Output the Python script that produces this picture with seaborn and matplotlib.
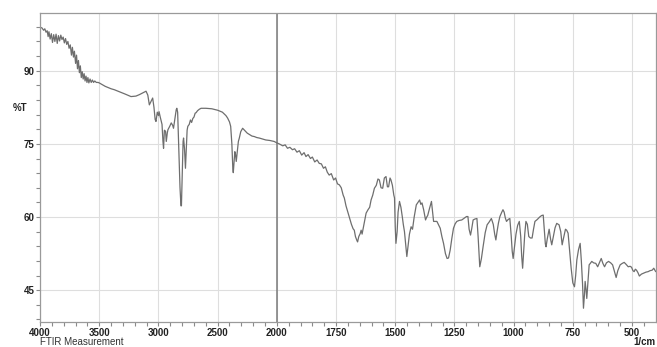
import numpy as np
import pandas as pd
import seaborn as sns
import matplotlib.pyplot as plt
from matplotlib.ticker import FixedLocator, NullFormatter

# =========================================================
#  Spectrum values
# =========================================================
wavenumber = [
    4000, 3985, 3970, 3960, 3950, 3940, 3932, 3925, 3915, 3905, 3895, 3885, 3875, 3865,
    3855, 3845, 3835, 3825, 3815, 3805, 3795, 3785, 3775, 3765, 3755, 3745, 3735, 3727,
    3718, 3710, 3700, 3692, 3684, 3676, 3668, 3660, 3652, 3644, 3636, 3628, 3620, 3612,
    3604, 3596, 3588, 3578, 3568, 3558, 3548, 3538, 3525, 3510, 3500, 3450, 3400, 3372,
    3320, 3280, 3232, 3190, 3161, 3130, 3105, 3090, 3077, 3065, 3049, 3038, 3028, 3021,
    3010, 3000, 2995, 2985, 2970, 2962, 2957, 2950, 2940, 2934, 2925, 2920, 2905, 2892,
    2880, 2873, 2862, 2850, 2845, 2838, 2828, 2818, 2810, 2806, 2800, 2792, 2788, 2780,
    2772, 2765, 2758, 2752, 2740, 2730, 2720, 2710, 2700, 2690, 2682, 2670, 2655, 2640,
    2600, 2550, 2500, 2460, 2430, 2416, 2400, 2390, 2380, 2372, 2368, 2362, 2355, 2350,
    2343, 2336, 2325, 2317, 2305, 2289, 2270, 2250, 2230, 2210, 2190, 2170, 2149, 2120,
    2093, 2060, 2040, 2023, 2000, 1990, 1975, 1965, 1955, 1945, 1934, 1925, 1915, 1905,
    1895, 1885, 1877, 1868, 1858, 1850, 1840, 1830, 1821, 1812, 1803, 1795, 1787, 1779,
    1770, 1760, 1752, 1744, 1736, 1728, 1720, 1715, 1708, 1700, 1694, 1685, 1678, 1673,
    1668, 1662, 1659, 1654, 1648, 1644, 1640, 1632, 1623, 1615, 1608, 1602, 1595, 1588,
    1580, 1573, 1567, 1560, 1553, 1546, 1539, 1533, 1528, 1522, 1518, 1512, 1506, 1503,
    1500, 1497, 1492, 1488, 1482, 1476, 1470, 1466, 1461, 1455, 1451, 1446, 1440, 1433,
    1427, 1420, 1411, 1404, 1397, 1392, 1387, 1380, 1372, 1367, 1363, 1355, 1347, 1342,
    1338, 1330, 1324, 1317, 1310, 1303, 1296, 1288, 1281, 1275, 1268, 1261, 1254, 1247,
    1240, 1230, 1219, 1208, 1199, 1193, 1188, 1182, 1177, 1171, 1163, 1155, 1150, 1143,
    1136, 1129, 1120, 1112, 1103, 1094, 1086, 1080, 1075, 1070, 1064, 1058, 1050, 1045,
    1040, 1035, 1030, 1023, 1016, 1010, 1006, 1002, 996, 990, 983, 976, 970, 966,
    962, 958, 953, 948, 942, 936, 929, 922, 916, 910, 900, 890, 882, 875,
    870, 866, 863, 858, 850, 844, 839, 832, 825, 818, 808, 801, 795, 790,
    781, 776, 770, 765, 757, 750, 743, 738, 733, 726, 719, 714, 709, 705,
    701, 698, 694, 691, 687, 681, 676, 670, 662, 653, 645, 638, 630, 623,
    616, 608, 599, 590, 582, 575, 567, 560, 550, 541, 533, 525, 516, 508,
    502, 496, 491, 486, 481, 475, 469, 460, 450, 441, 432, 424, 415, 408, 400,
]
transmittance = [
    98.9, 98.8, 98.3, 98.6, 97.9, 98.2, 97.0, 98.0, 96.5, 97.6, 95.8, 97.4, 96.0, 97.5,
    95.6, 97.2, 96.1, 97.3, 96.4, 96.9, 95.7, 96.6, 95.4, 96.0, 94.6, 95.3, 93.2, 94.8,
    92.8, 94.0, 91.5, 93.2, 90.4, 92.1, 89.6, 91.0, 88.6, 89.8, 88.3, 89.4, 87.9, 88.9,
    87.6, 88.6, 87.5, 88.3, 87.6, 88.1, 87.6, 87.9, 87.6, 87.6, 87.5, 86.8, 86.3, 86.1,
    85.6, 85.2, 84.7, 84.8, 85.1, 85.5, 85.8, 85.0, 83.0, 83.6, 84.4, 82.5, 80.0, 79.6,
    81.5, 80.8, 81.6, 80.5, 79.0, 75.5, 74.1, 77.8, 77.6, 75.5, 77.3, 77.9, 78.6, 79.3,
    78.8, 78.2, 80.0, 82.0, 82.3, 81.5, 74.0, 66.0, 62.3, 62.3, 68.0, 75.5, 76.2, 74.0,
    70.0, 74.0, 77.8, 78.6, 79.0, 79.9, 79.4, 80.2, 80.5, 81.3, 81.4, 81.8, 82.1, 82.3,
    82.3, 82.2, 81.9, 81.5, 80.8, 80.3, 79.5, 78.6, 75.0, 70.0, 69.1, 71.0, 73.4, 73.0,
    71.4, 73.0, 75.5, 76.2, 77.5, 78.2, 77.7, 77.2, 76.9, 76.6, 76.5, 76.3, 76.2, 76.0,
    75.8, 75.7, 75.6, 75.5, 75.2, 75.0, 74.6, 74.8, 74.1, 74.3, 73.8, 74.0, 73.3, 73.6,
    72.7, 73.2, 72.4, 72.8, 72.0, 72.3, 71.3, 71.7, 71.0, 70.9, 70.0, 70.3, 69.2, 68.6,
    68.9, 67.6, 68.0, 66.8, 66.6, 66.0, 64.5, 63.9, 62.3, 61.0, 60.1, 58.5, 57.6, 57.3,
    56.0, 55.2, 54.9, 56.0, 56.6, 57.3, 56.5, 58.5, 60.8, 61.5, 62.0, 63.5, 64.5, 65.9,
    66.5, 67.8, 67.6, 66.0, 65.9, 68.0, 68.3, 66.2, 66.2, 68.0, 67.6, 66.5, 64.5, 63.9,
    58.0, 54.6, 57.0, 61.0, 63.2, 62.0, 60.0, 58.5, 57.0, 54.0, 51.9, 54.0, 56.5, 58.0,
    57.5, 60.0, 62.5, 63.0, 63.5, 62.6, 62.9, 61.5, 59.4, 60.0, 60.3, 61.8, 63.2, 61.0,
    59.1, 59.1, 59.1, 58.4, 57.7, 56.0, 54.6, 52.5, 51.5, 51.6, 53.2, 55.6, 57.7, 58.6,
    59.1, 59.3, 59.4, 59.8, 60.1, 60.1, 57.5, 56.3, 57.6, 59.4, 59.6, 59.7, 56.0, 49.8,
    51.5, 53.9, 56.8, 58.4, 59.0, 59.7, 58.5, 56.5, 55.3, 57.0, 58.8, 60.1, 61.0, 61.5,
    61.0, 59.8, 59.1, 59.5, 59.7, 56.0, 53.0, 51.5, 54.0, 56.5, 58.3, 59.1, 56.0, 52.0,
    49.5, 52.5, 56.5, 59.1, 58.5, 56.0, 55.7, 55.7, 57.5, 59.1, 59.5, 60.0, 60.3, 60.4,
    57.0, 54.5, 53.9, 55.5, 57.5, 55.5, 54.3, 56.0, 57.8, 58.7, 58.4, 57.0, 54.3, 55.5,
    57.5, 57.3, 56.7, 54.0, 49.5, 46.5, 45.7, 48.0, 51.2, 53.3, 54.6, 51.0, 46.4, 41.3,
    44.0, 46.8, 45.0, 43.3, 46.0, 50.2, 50.5, 50.9, 50.6, 50.5, 49.8, 50.6, 51.5, 50.5,
    49.8, 50.6, 50.9, 50.6, 50.2, 49.0, 47.6, 49.0, 50.2, 50.5, 50.7, 50.3, 49.8, 49.9,
    49.7, 49.0, 48.8, 49.3, 49.1, 48.6, 47.9, 48.3, 48.5, 48.7, 48.8, 49.0, 49.1, 49.5, 48.8,
]

x_major = [4000, 3500, 3000, 2500, 2000, 1750, 1500, 1250, 1000, 750, 500]
y_major = [45, 60, 75, 90]

df = pd.DataFrame({'wn': wavenumber, 'T': transmittance})

# =========================================================
#  Shimadzu style axis: x2 expansion below 2000 1/cm
# =========================================================
def fwd(x):
    x = np.asarray(x, dtype=float)
    return np.where(x > 2000, 2000 + (x - 2000) / 2, x)

def inv(x):
    x = np.asarray(x, dtype=float)
    return np.where(x > 2000, 2000 + (x - 2000) * 2, x)

sns.set_style("white")
plt.rcParams['font.family'] = ['Liberation Sans', 'DejaVu Sans']

fig = plt.figure(figsize=(6.57, 3.47), dpi=100)
ax = fig.add_axes([0.061, 0.071, 0.937, 0.891])

sns.lineplot(data=df, x='wn', y='T', sort=False, color='#6e6e6e', linewidth=0.9, ax=ax)

ax.set_xscale('function', functions=(fwd, inv))
ax.set_xlim(4000, 400)
ax.set_ylim(38.4, 101.8)

minor_x = list(range(3900, 2000, -100)) + list(range(1950, 400, -50))
ax.xaxis.set_major_locator(FixedLocator(x_major))
ax.xaxis.set_minor_locator(FixedLocator([m for m in minor_x if m not in x_major]))
ax.xaxis.set_minor_formatter(NullFormatter())
ax.set_xticklabels([str(v) for v in x_major])
ax.yaxis.set_major_locator(FixedLocator(y_major))
ax.yaxis.set_minor_locator(FixedLocator([v for v in range(39, 102, 3) if v not in y_major]))

ax.grid(True, which='major', color='#dedede', linewidth=0.8)
ax.axvline(2000, color='#7a7a7a', linewidth=1.1, zorder=1)

for s in ax.spines.values():
    s.set_color('#9a9a9a')
    s.set_linewidth(0.9)

ax.tick_params(which='both', bottom=True, left=True, direction='out', length=3,
               width=0.8, color='#8a8a8a', labelsize=7, labelcolor='#222222', pad=1)
for lbl in ax.get_xticklabels() + ax.get_yticklabels():
    lbl.set_fontweight('bold')

ax.set_xlabel('')
ax.set_ylabel('')

fig.text(0.02, 0.689, '%T', fontsize=7, fontweight='bold', color='#222222', va='center')
fig.text(0.061, 0.0, 'FTIR Measurement', fontsize=7, color='#333333', va='bottom')
fig.text(0.998, 0.0, '1/cm', fontsize=7, fontweight='bold', color='#222222',
         va='bottom', ha='right')

fig.savefig('out.png', dpi=100)
